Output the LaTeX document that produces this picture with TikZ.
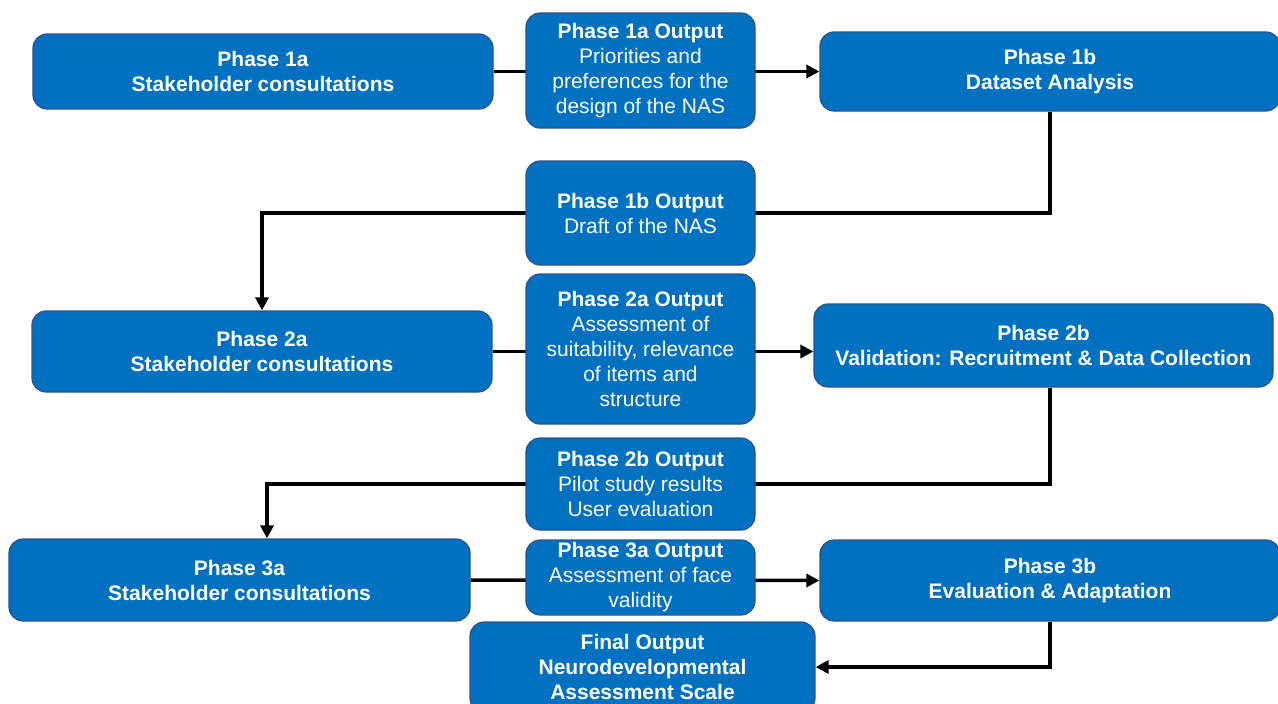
\documentclass[tikz,border=0pt]{standalone}
\usepackage{fontspec}
\setmainfont{Liberation Sans}
\usetikzlibrary{arrows.meta,positioning,backgrounds}
\definecolor{phaseblue}{RGB}{0,112,192}
\definecolor{edgeblue}{RGB}{47,82,143}
\tikzset{
  phase/.style   = {rectangle, rounded corners=14pt, draw=edgeblue, fill=phaseblue,
                    line width=1.2pt, text=white, align=center, inner sep=0pt,
                    font=\fontsize{21}{25}\selectfont\bfseries},
  outbox/.style  = {phase, minimum width=229pt,
                    font=\fontsize{21}{25}\selectfont},
  flow/.style    = {-{Triangle[length=13pt,width=13pt]}, line width=3.5pt},
}

\begin{document}
\begin{tikzpicture}[x=1pt, y=-1pt]
\useasboundingbox (0,0) rectangle (1278,704);

% Phase 1
\node[phase, minimum width=460pt, minimum height=75pt] (p1a) at (263,71.5)
  {Phase 1a\\Stakeholder consultations};
\node[outbox, minimum height=115pt] (o1a) at (640.5,70.5)
  {\textbf{Phase 1a Output}\\Priorities and\\preferences for the\\design of the NAS};
\node[phase, minimum width=460pt, minimum height=79pt] (p1b) at (1050,71.5)
  {Phase 1b\\Dataset Analysis};
\node[outbox, minimum height=104pt] (o1b) at (640.5,213)
  {\textbf{Phase 1b Output}\\Draft of the NAS};

% Phase 2
\node[phase, minimum width=460pt, minimum height=81pt] (p2a) at (262,351.5)
  {Phase 2a\\Stakeholder consultations};
\node[outbox, minimum height=150pt] (o2a) at (640.5,349)
  {\textbf{Phase 2a Output}\\Assessment of\\suitability, relevance\\of items and\\structure};
\node[phase, minimum width=459pt, minimum height=83pt] (p2b) at (1043.5,345.5)
  {Phase 2b\\Validation: Recruitment \& Data Collection};
\node[outbox, minimum height=92pt] (o2b) at (640.5,484)
  {\textbf{Phase 2b Output}\\Pilot study results\\User evaluation};

% Phase 3
\node[phase, minimum width=461pt, minimum height=82pt] (p3a) at (239.5,580)
  {Phase 3a\\Stakeholder consultations};
\node[outbox, minimum height=75pt] (o3a) at (640.5,577.5)
  {\textbf{Phase 3a Output}\\Assessment of face\\validity};
\node[phase, minimum width=460pt, minimum height=81pt] (p3b) at (1050,580.5)
  {Phase 3b\\Evaluation \& Adaptation};

% final output
\node[phase, minimum width=345pt, minimum height=90pt] (fin) at (642.5,667)
  {Final Output\\Neurodevelopmental\\Assessment Scale};

% connectors, behind the output boxes
\begin{scope}[on background layer]
\draw[flow] (p1a.east) -- (p1b.west);
\draw[flow] (p1b.south) -- (p1b.south |- o1b.center) -| (p2a.north);
\draw[flow] (p2a.east) -- (p2a.east -| p2b.west);
\draw[flow] ([xshift=6.5pt]p2b.south) -- ([xshift=6.5pt]p2b.south |- o2b.center)
   -| ([xshift=27.5pt]p3a.north);
\draw[flow] (p3a.east) -- (p3b.west);
\draw[flow] (p3b.south) |- (fin.east);
\end{scope}

\end{tikzpicture}
\end{document}
